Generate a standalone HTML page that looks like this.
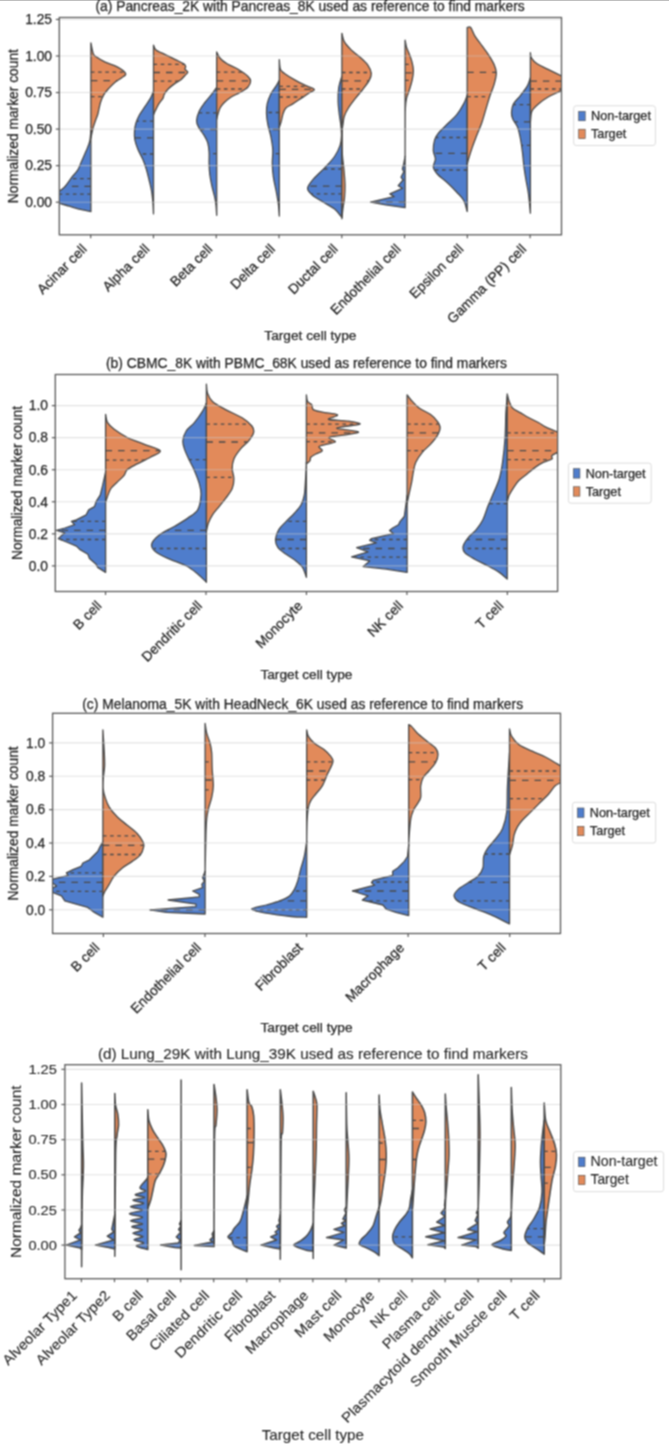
<!DOCTYPE html><html><head><meta charset="utf-8"><style>html,body{margin:0;padding:0;background:#fff;}text{stroke:#222;stroke-width:0.25px;}.lt text{stroke-width:0.1px;}</style></head><body><svg width="669" height="1445" viewBox="0 0 669 1445" style="display:block">
<defs><filter id="soft" x="0" y="0" width="1" height="1" filterUnits="objectBoundingBox" color-interpolation-filters="sRGB"><feConvolveMatrix order="3" kernelMatrix="1 2 1 2 4 2 1 2 1" edgeMode="duplicate" preserveAlpha="true"/></filter></defs>
<g filter="url(#soft)">
<rect width="669" height="1445" fill="#fff"/>
<g font-family='"Liberation Sans", sans-serif' fill="#262626">
<g>
<clipPath id="clipa"><rect x="59.3" y="17.5" width="502.2" height="217.3"/></clipPath>
<g clip-path="url(#clipa)" stroke="#4a4a4a" stroke-width="1.3" stroke-linejoin="round">
<path d="M90.9,130 C90.7,131.92 90.5,137.98 89.7,141.5 C88.9,145.02 87.5,147.7 86.1,151.1 C84.7,154.5 82.7,158.72 81.3,161.9 C79.9,165.08 79.3,167.62 77.7,170.2 C76.1,172.78 73.88,174.6 71.7,177.4 C69.52,180.2 67.05,184.4 64.6,187 C62.15,189.6 58.77,191.33 57,193 C55.23,194.67 54.33,195.67 54,197 C53.67,198.33 54,199.92 55,201 C56,202.08 57.62,202.65 60,203.5 C62.38,204.35 66.15,205.17 69.3,206.1 C72.45,207.03 75.3,208.2 78.9,209.1 C82.5,210 88.9,211.1 90.9,211.5 Z" fill="#4f7dcc"/>
<path d="M90.9,42.9 C91.3,44.7 92.3,51.3 93.3,53.7 C94.3,56.1 94.92,55.9 96.9,57.3 C98.88,58.7 101.82,60.5 105.2,62.1 C108.58,63.7 113.8,65.02 117.2,66.9 C120.6,68.78 124.8,71.62 125.6,73.4 C126.4,75.18 123.8,76.1 122,77.6 C120.2,79.1 117,80.6 114.8,82.4 C112.6,84.2 110.6,86.4 108.8,88.4 C107,90.4 105.4,92.02 104,94.4 C102.6,96.78 101.4,99.52 100.4,102.7 C99.4,105.88 98.78,110.62 98,113.5 C97.22,116.38 96.48,117.72 95.7,120 C94.92,122.28 94.1,124.2 93.3,127.2 C92.5,130.2 91.3,136.2 90.9,138 Z" fill="#e28a5a"/>
<line x1="90.9" y1="72.2" x2="124.05" y2="72.2" stroke-dasharray="3.6 3.6" stroke-width="1.3"/>
<line x1="90.9" y1="80.6" x2="117.5" y2="80.6" stroke-dasharray="6.5 6" stroke-width="1.3"/>
<line x1="90.9" y1="96.7" x2="103" y2="96.7" stroke-dasharray="3.6 3.6" stroke-width="1.3"/>
<line x1="90.9" y1="178.6" x2="70.81" y2="178.6" stroke-dasharray="3.6 3.6" stroke-width="1.3"/>
<line x1="90.9" y1="186.4" x2="65.04" y2="186.4" stroke-dasharray="6.5 6" stroke-width="1.3"/>
<line x1="90.9" y1="194.1" x2="56.18" y2="194.1" stroke-dasharray="3.6 3.6" stroke-width="1.3"/>
<path d="M153.5,91.4 C152.98,92.57 151.83,95.85 150.4,98.4 C148.97,100.95 146.73,103.93 144.9,106.7 C143.07,109.47 140.9,112.23 139.4,115 C137.9,117.77 136.72,120.53 135.9,123.3 C135.08,126.07 134.67,128.83 134.5,131.6 C134.33,134.37 134.32,136.9 134.9,139.9 C135.48,142.9 136.68,146.37 138,149.6 C139.32,152.83 141.42,156.07 142.8,159.3 C144.18,162.53 145.25,165.55 146.3,169 C147.35,172.45 148.22,176.32 149.1,180 C149.98,183.68 150.97,187.4 151.6,191.1 C152.23,194.8 152.58,198.4 152.9,202.2 C153.22,206 153.4,211.95 153.5,213.9 Z" fill="#4f7dcc"/>
<path d="M153.5,45.1 C153.92,45.9 153.97,48.28 156,49.9 C158.03,51.52 162.47,53.18 165.7,54.8 C168.93,56.42 172.4,58.1 175.4,59.6 C178.4,61.1 181.98,62.65 183.7,63.8 C185.42,64.95 185.48,65.58 185.7,66.5 C185.92,67.42 184.65,68.37 185,69.3 C185.35,70.23 187.8,71.07 187.8,72.1 C187.8,73.13 186.15,74.23 185,75.5 C183.85,76.77 182.5,78.43 180.9,79.7 C179.3,80.97 177.48,81.6 175.4,83.1 C173.32,84.6 170.25,86.85 168.4,88.7 C166.55,90.55 165.22,92.58 164.3,94.2 C163.38,95.82 163.82,96.78 162.9,98.4 C161.98,100.02 160.07,101.83 158.8,103.9 C157.53,105.97 156.18,108.95 155.3,110.8 C154.42,112.65 153.8,114.3 153.5,115 Z" fill="#e28a5a"/>
<line x1="153.5" y1="64.4" x2="184.14" y2="64.4" stroke-dasharray="3.6 3.6" stroke-width="1.3"/>
<line x1="153.5" y1="72.5" x2="187.47" y2="72.5" stroke-dasharray="6.5 6" stroke-width="1.3"/>
<line x1="153.5" y1="81.1" x2="178.64" y2="81.1" stroke-dasharray="3.6 3.6" stroke-width="1.3"/>
<line x1="153.5" y1="121.2" x2="136.79" y2="121.2" stroke-dasharray="3.6 3.6" stroke-width="1.3"/>
<line x1="153.5" y1="137.8" x2="134.8" y2="137.8" stroke-dasharray="6.5 6" stroke-width="1.3"/>
<line x1="153.5" y1="154" x2="140.18" y2="154" stroke-dasharray="3.6 3.6" stroke-width="1.3"/>
<path d="M216.7,87.3 C215.88,88.45 213.77,91.67 211.8,94.2 C209.83,96.73 206.97,99.73 204.9,102.5 C202.83,105.27 200.78,107.8 199.4,110.8 C198.02,113.8 196.72,117.73 196.6,120.5 C196.48,123.27 197.55,125.1 198.7,127.4 C199.85,129.7 202,131.77 203.5,134.3 C205,136.83 206.77,139.6 207.7,142.6 C208.63,145.6 208.87,148.83 209.1,152.3 C209.33,155.77 208.98,159.7 209.1,163.4 C209.22,167.1 209.35,170.8 209.8,174.5 C210.25,178.2 211,181.92 211.8,185.6 C212.6,189.28 213.9,193.38 214.6,196.6 C215.3,199.82 215.65,201.78 216,204.9 C216.35,208.02 216.58,213.57 216.7,215.3 Z" fill="#4f7dcc"/>
<path d="M216.7,52 C217.27,53.03 218.37,56.23 220.1,58.2 C221.83,60.17 224.1,61.95 227.1,63.8 C230.1,65.65 234.65,67.23 238.1,69.3 C241.55,71.37 245.72,74.23 247.8,76.2 C249.88,78.17 250.6,79.25 250.6,81.1 C250.6,82.95 249.65,85.35 247.8,87.3 C245.95,89.25 242.27,91.18 239.5,92.8 C236.73,94.42 233.73,95.38 231.2,97 C228.67,98.62 226.15,100.67 224.3,102.5 C222.45,104.33 221.13,106.15 220.1,108 C219.07,109.85 218.67,111.75 218.1,113.6 C217.53,115.45 216.93,118.18 216.7,119.1 Z" fill="#e28a5a"/>
<line x1="216.7" y1="72.1" x2="242.04" y2="72.1" stroke-dasharray="3.6 3.6" stroke-width="1.3"/>
<line x1="216.7" y1="80.8" x2="250.43" y2="80.8" stroke-dasharray="6.5 6" stroke-width="1.3"/>
<line x1="216.7" y1="89" x2="245.23" y2="89" stroke-dasharray="3.6 3.6" stroke-width="1.3"/>
<line x1="216.7" y1="112.9" x2="198.79" y2="112.9" stroke-dasharray="3.6 3.6" stroke-width="1.3"/>
<line x1="216.7" y1="129.5" x2="200.16" y2="129.5" stroke-dasharray="6.5 6" stroke-width="1.3"/>
<line x1="216.7" y1="153.7" x2="209.1" y2="153.7" stroke-dasharray="3.6 3.6" stroke-width="1.3"/>
<path d="M279.3,80.4 C278.78,81.32 277.63,83.6 276.2,85.9 C274.77,88.2 272.2,91.2 270.7,94.2 C269.2,97.2 267.9,100.67 267.2,103.9 C266.5,107.13 266.38,110.13 266.5,113.6 C266.62,117.07 267.2,121.02 267.9,124.7 C268.6,128.38 269.88,131.55 270.7,135.7 C271.52,139.85 272.53,144.98 272.8,149.6 C273.07,154.22 272.2,158.8 272.3,163.4 C272.4,168 272.75,172.58 273.4,177.2 C274.05,181.82 275.38,186.72 276.2,191.1 C277.02,195.48 277.78,199.35 278.3,203.5 C278.82,207.65 279.13,213.92 279.3,216 Z" fill="#4f7dcc"/>
<path d="M279.3,59.6 C279.48,61.22 279.53,67 280.4,69.3 C281.27,71.6 281.97,71.55 284.5,73.4 C287.03,75.25 291.9,78.32 295.6,80.4 C299.3,82.48 303.58,84.4 306.7,85.9 C309.82,87.4 313.85,88.25 314.3,89.4 C314.75,90.55 311.6,91.3 309.4,92.8 C307.2,94.3 303.87,96.55 301.1,98.4 C298.33,100.25 295.33,102.3 292.8,103.9 C290.27,105.5 287.52,106.38 285.9,108 C284.28,109.62 283.9,111.28 283.1,113.6 C282.3,115.92 281.73,119.6 281.1,121.9 C280.47,124.2 279.6,126.48 279.3,127.4 Z" fill="#e28a5a"/>
<line x1="279.3" y1="86.3" x2="307.57" y2="86.3" stroke-dasharray="3.6 3.6" stroke-width="1.3"/>
<line x1="279.3" y1="89.4" x2="314.3" y2="89.4" stroke-dasharray="6.5 6" stroke-width="1.3"/>
<line x1="279.3" y1="97" x2="303.18" y2="97" stroke-dasharray="3.6 3.6" stroke-width="1.3"/>
<line x1="279.3" y1="112.5" x2="266.58" y2="112.5" stroke-dasharray="3.6 3.6" stroke-width="1.3"/>
<line x1="279.3" y1="129.5" x2="269.12" y2="129.5" stroke-dasharray="6.5 6" stroke-width="1.3"/>
<line x1="279.3" y1="153.7" x2="272.65" y2="153.7" stroke-dasharray="3.6 3.6" stroke-width="1.3"/>
<path d="M341.9,76.2 C341.38,78.05 339.43,83.15 338.8,87.3 C338.17,91.45 338,96.48 338.1,101.1 C338.2,105.72 338.95,111.07 339.4,115 C339.85,118.93 340.45,121.25 340.8,124.7 C341.15,128.15 341.62,132.25 341.5,135.7 C341.38,139.15 341.25,141.93 340.1,145.4 C338.95,148.87 337.13,152.8 334.6,156.5 C332.07,160.2 328.37,163.92 324.9,167.6 C321.43,171.28 316.68,175.15 313.8,178.6 C310.92,182.05 307.82,185.53 307.6,188.3 C307.38,191.07 309.85,192.88 312.5,195.2 C315.15,197.52 319.82,199.88 323.5,202.2 C327.18,204.52 331.53,206.57 334.6,209.1 C337.67,211.63 340.68,216.02 341.9,217.4 Z" fill="#4f7dcc"/>
<path d="M341.9,33.3 C342.3,34.68 342.75,38.83 344.3,41.6 C345.85,44.37 348.67,47.37 351.2,49.9 C353.73,52.43 356.73,54.27 359.5,56.8 C362.27,59.33 365.83,62.33 367.8,65.1 C369.77,67.87 371.07,70.85 371.3,73.4 C371.53,75.95 370.7,77.63 369.2,80.4 C367.7,83.17 364.6,87 362.3,90 C360,93 357.72,95.4 355.4,98.4 C353.08,101.4 350.25,105.02 348.4,108 C346.55,110.98 345.22,113.52 344.3,116.3 C343.38,119.08 343.25,122.38 342.9,124.7 C342.55,127.02 342.33,127.65 342.2,130.2 C342.07,132.75 342.07,135.87 342.1,140 C342.13,144.13 342.08,149.95 342.4,155 C342.72,160.05 343.57,165.3 344,170.3 C344.43,175.3 344.92,180.38 345,185 C345.08,189.62 344.83,194.17 344.5,198 C344.17,201.83 343.43,204.53 343,208 C342.57,211.47 342.08,217 341.9,218.8 Z" fill="#e28a5a"/>
<line x1="341.9" y1="72.5" x2="370.92" y2="72.5" stroke-dasharray="3.6 3.6" stroke-width="1.3"/>
<line x1="341.9" y1="80.8" x2="368.91" y2="80.8" stroke-dasharray="6.5 6" stroke-width="1.3"/>
<line x1="341.9" y1="89" x2="363.02" y2="89" stroke-dasharray="3.6 3.6" stroke-width="1.3"/>
<line x1="341.9" y1="169" x2="323.49" y2="169" stroke-dasharray="3.6 3.6" stroke-width="1.3"/>
<line x1="341.9" y1="186.2" x2="308.94" y2="186.2" stroke-dasharray="6.5 6" stroke-width="1.3"/>
<line x1="341.9" y1="193.9" x2="311.58" y2="193.9" stroke-dasharray="3.6 3.6" stroke-width="1.3"/>
<path d="M405.1,156.5 L403.8,163.4 L402.4,169 L403.8,171.7 L401,177.2 L403.1,180 L398.2,185.6 L402.4,188.3 L389.9,193.9 L394.1,196.6 L370.5,202.2 L385.8,204.9 L405.1,207.7 Z" fill="#4f7dcc"/>
<path d="M405.1,40.2 C405.33,41.35 405.8,44.78 406.5,47.1 C407.2,49.42 408.37,51.55 409.3,54.1 C410.23,56.65 411.42,59.63 412.1,62.4 C412.78,65.17 413.4,67.7 413.4,70.7 C413.4,73.7 412.78,77.17 412.1,80.4 C411.42,83.63 410.23,87.1 409.3,90.1 C408.37,93.1 407.15,95.42 406.5,98.4 C405.85,101.38 405.62,104.08 405.4,108 C405.18,111.92 405.25,113.82 405.2,121.9 C405.15,129.98 405.12,150.73 405.1,156.5 Z" fill="#e28a5a"/>
<line x1="405.1" y1="64.4" x2="412.41" y2="64.4" stroke-dasharray="3.6 3.6" stroke-width="1.3"/>
<line x1="405.1" y1="72.8" x2="413.12" y2="72.8" stroke-dasharray="6.5 6" stroke-width="1.3"/>
<line x1="405.1" y1="80.4" x2="412.1" y2="80.4" stroke-dasharray="3.6 3.6" stroke-width="1.3"/>
<line x1="405.1" y1="202.2" x2="370.5" y2="202.2" stroke-dasharray="6.5 6" stroke-width="1.3"/>
<path d="M467.2,95.3 C466.63,96.68 465.53,100.37 463.8,103.6 C462.07,106.83 459.58,111.25 456.8,114.7 C454.02,118.15 450.1,121.32 447.1,124.3 C444.1,127.28 440.87,130.05 438.8,132.6 C436.73,135.15 435.62,136.6 434.7,139.6 C433.78,142.6 433.18,147.37 433.3,150.6 C433.42,153.83 435.4,156.23 435.4,159 C435.4,161.77 432.95,164.67 433.3,167.2 C433.65,169.73 435.2,171.65 437.5,174.2 C439.8,176.75 443.88,179.5 447.1,182.5 C450.32,185.5 454.02,189.2 456.8,192.2 C459.58,195.2 462.07,197.28 463.8,200.5 C465.53,203.72 466.63,209.67 467.2,211.5 Z" fill="#4f7dcc"/>
<path d="M467.2,27.5 C467.78,27.5 469.43,26.12 470.7,27.5 C471.97,28.88 472.97,32.82 474.8,35.8 C476.63,38.78 479.38,42.18 481.7,45.4 C484.02,48.62 486.62,51.87 488.7,55.1 C490.78,58.33 492.93,61.8 494.2,64.8 C495.47,67.8 496.3,69.87 496.3,73.1 C496.3,76.33 495.23,80.5 494.2,84.2 C493.17,87.9 491.48,91.15 490.1,95.3 C488.72,99.45 487.3,104.48 485.9,109.1 C484.5,113.72 483.32,118.38 481.7,123 C480.08,127.62 477.8,132.65 476.2,136.8 C474.6,140.95 473.37,144.22 472.1,147.9 C470.83,151.58 469.42,156.13 468.6,158.9 C467.78,161.67 467.43,163.57 467.2,164.5 Z" fill="#e28a5a"/>
<line x1="467.2" y1="72.4" x2="496.12" y2="72.4" stroke-dasharray="6.5 6" stroke-width="1.3"/>
<line x1="467.2" y1="96.7" x2="489.67" y2="96.7" stroke-dasharray="3.6 3.6" stroke-width="1.3"/>
<line x1="467.2" y1="137.5" x2="435.93" y2="137.5" stroke-dasharray="3.6 3.6" stroke-width="1.3"/>
<line x1="467.2" y1="153.4" x2="434" y2="153.4" stroke-dasharray="6.5 6" stroke-width="1.3"/>
<line x1="467.2" y1="170" x2="434.98" y2="170" stroke-dasharray="3.6 3.6" stroke-width="1.3"/>
<path d="M530.4,77.6 C529.9,78.98 529.07,82.9 527.4,85.9 C525.73,88.9 522.72,92.6 520.4,95.6 C518.08,98.6 514.98,101.13 513.5,103.9 C512.02,106.67 511.62,109.67 511.5,112.2 C511.38,114.73 511.77,116.57 512.8,119.1 C513.83,121.63 516.43,124.17 517.7,127.4 C518.97,130.63 519.6,134.35 520.4,138.5 C521.2,142.65 521.92,147.68 522.5,152.3 C523.08,156.92 523.32,161.58 523.9,166.2 C524.48,170.82 525.23,175.38 526,180 C526.77,184.62 527.77,188.37 528.5,193.9 C529.23,199.43 530.08,209.98 530.4,213.2 Z" fill="#4f7dcc"/>
<path d="M530.4,52.7 C530.58,53.62 530.38,56.35 531.5,58.2 C532.62,60.05 534.33,61.95 537.1,63.8 C539.87,65.65 543.95,67.23 548.1,69.3 C552.25,71.37 558.02,74.25 562,76.2 C565.98,78.15 572,78.7 572,81 C572,83.3 565.98,87.33 562,90 C558.02,92.67 552.03,94.68 548.1,97 C544.17,99.32 540.93,101.83 538.4,103.9 C535.87,105.97 534.1,107.78 532.9,109.4 C531.7,111.02 531.62,111.52 531.2,113.6 C530.78,115.68 530.53,120.52 530.4,121.9 Z" fill="#e28a5a"/>
<line x1="530.4" y1="81.1" x2="571.89" y2="81.1" stroke-dasharray="6.5 6" stroke-width="1.3"/>
<line x1="530.4" y1="89" x2="563.11" y2="89" stroke-dasharray="3.6 3.6" stroke-width="1.3"/>
<line x1="530.4" y1="104.6" x2="513.33" y2="104.6" stroke-dasharray="3.6 3.6" stroke-width="1.3"/>
<line x1="530.4" y1="121.9" x2="514.45" y2="121.9" stroke-dasharray="6.5 6" stroke-width="1.3"/>
<line x1="530.4" y1="145.4" x2="521.45" y2="145.4" stroke-dasharray="3.6 3.6" stroke-width="1.3"/>
</g>
<g stroke="#c8c8c8" stroke-width="1.1" stroke-opacity="0.5">
<line x1="59.3" y1="19.45" x2="561.5" y2="19.45"/>
<line x1="59.3" y1="56" x2="561.5" y2="56"/>
<line x1="59.3" y1="92.55" x2="561.5" y2="92.55"/>
<line x1="59.3" y1="129.1" x2="561.5" y2="129.1"/>
<line x1="59.3" y1="165.65" x2="561.5" y2="165.65"/>
<line x1="59.3" y1="202.2" x2="561.5" y2="202.2"/>
</g>
<rect x="59.3" y="17.5" width="502.2" height="217.3" fill="none" stroke="#5a5a5a" stroke-width="1.3"/>
<g stroke="#5a5a5a" stroke-width="1.2">
<line x1="55.8" y1="19.45" x2="59.3" y2="19.45"/>
<line x1="55.8" y1="56" x2="59.3" y2="56"/>
<line x1="55.8" y1="92.55" x2="59.3" y2="92.55"/>
<line x1="55.8" y1="129.1" x2="59.3" y2="129.1"/>
<line x1="55.8" y1="165.65" x2="59.3" y2="165.65"/>
<line x1="55.8" y1="202.2" x2="59.3" y2="202.2"/>
<line x1="90.69" y1="234.8" x2="90.69" y2="238.3"/>
<line x1="153.46" y1="234.8" x2="153.46" y2="238.3"/>
<line x1="216.24" y1="234.8" x2="216.24" y2="238.3"/>
<line x1="279.01" y1="234.8" x2="279.01" y2="238.3"/>
<line x1="341.79" y1="234.8" x2="341.79" y2="238.3"/>
<line x1="404.56" y1="234.8" x2="404.56" y2="238.3"/>
<line x1="467.34" y1="234.8" x2="467.34" y2="238.3"/>
<line x1="530.11" y1="234.8" x2="530.11" y2="238.3"/>
</g>
<text x="52" y="24.25" font-size="13.8" text-anchor="end">1.25</text>
<text x="52" y="60.8" font-size="13.8" text-anchor="end">1.00</text>
<text x="52" y="97.35" font-size="13.8" text-anchor="end">0.75</text>
<text x="52" y="133.9" font-size="13.8" text-anchor="end">0.50</text>
<text x="52" y="170.45" font-size="13.8" text-anchor="end">0.25</text>
<text x="52" y="207" font-size="13.8" text-anchor="end">0.00</text>
<text x="0" y="0" font-size="13.8" text-anchor="end" transform="translate(87.69,249.9) rotate(-45)">Acinar cell</text>
<text x="0" y="0" font-size="13.8" text-anchor="end" transform="translate(150.46,249.9) rotate(-45)">Alpha cell</text>
<text x="0" y="0" font-size="13.8" text-anchor="end" transform="translate(213.24,249.9) rotate(-45)">Beta cell</text>
<text x="0" y="0" font-size="13.8" text-anchor="end" transform="translate(276.01,249.9) rotate(-45)">Delta cell</text>
<text x="0" y="0" font-size="13.8" text-anchor="end" transform="translate(338.79,249.9) rotate(-45)">Ductal cell</text>
<text x="0" y="0" font-size="13.8" text-anchor="end" transform="translate(401.56,249.9) rotate(-45)">Endothelial cell</text>
<text x="0" y="0" font-size="13.8" text-anchor="end" transform="translate(464.34,249.9) rotate(-45)">Epsilon cell</text>
<text x="0" y="0" font-size="13.8" text-anchor="end" transform="translate(527.11,249.9) rotate(-45)">Gamma (PP) cell</text>
<text x="95.4" y="10.8" font-size="13.85" text-anchor="start">(a) Pancreas_2K with Pancreas_8K used as reference to find markers</text>
<rect x="573.7" y="105.8" width="81.7" height="39.7" rx="2.5" fill="#fff" fill-opacity="0.8" stroke="#dcdcdc" stroke-width="1"/>
<rect x="578.7" y="111.36" width="6.5" height="9.4" fill="#4f7dcc" stroke="#4a4a4a" stroke-width="0.6"/>
<rect x="578.7" y="129.22" width="6.5" height="9.4" fill="#e28a5a" stroke="#4a4a4a" stroke-width="0.6"/>
<text x="591" y="120.16" font-size="12.7" text-anchor="start">Non-target</text>
<text x="591" y="138.02" font-size="12.7" text-anchor="start">Target</text>
<text x="310.4" y="339.6" font-size="13.7" text-anchor="middle">Target cell type</text>
<text x="0" y="0" font-size="13.8" text-anchor="middle" transform="translate(17.9,126.15) rotate(-90)">Normalized marker count</text>
</g>
<g>
<clipPath id="clipb"><rect x="55.3" y="374.5" width="502.3" height="217"/></clipPath>
<g clip-path="url(#clipb)" stroke="#4a4a4a" stroke-width="1.3" stroke-linejoin="round">
<path d="M105.6,472.1 L102.7,485.2 L100.2,495.1 L96.1,501.7 L94.5,506.6 L88.7,509.9 L86.2,514.8 L76.4,519.8 L71.4,521.4 L74.7,524.7 L64.9,528 L56.6,530.4 L64.9,532.9 L61.6,535.4 L58.3,538.7 L66.5,542 L76.4,546.1 L79.7,549.4 L87.9,554.3 L89.5,558.4 L96.1,564.2 L97.7,567.4 L105.6,572.4 Z" fill="#4f7dcc"/>
<path d="M105.6,414.5 C105.93,415.87 106.17,420.23 107.6,422.7 C109.03,425.17 110.92,426.83 114.2,429.3 C117.48,431.77 122.37,435.03 127.3,437.5 C132.23,439.97 138.32,441.9 143.8,444.1 C149.28,446.3 159.1,448.5 160.2,450.7 C161.3,452.9 154.23,455.1 150.4,457.3 C146.57,459.5 141.05,461.85 137.2,463.9 C133.35,465.95 129.48,467.68 127.3,469.6 C125.12,471.52 125.73,473.35 124.1,475.4 C122.47,477.45 119.7,479.72 117.5,481.9 C115.3,484.08 112.68,485.75 110.9,488.5 C109.12,491.25 107.68,496.2 106.8,498.4 C105.92,500.6 105.8,501.15 105.6,501.7 Z" fill="#e28a5a"/>
<line x1="105.6" y1="450.7" x2="160.2" y2="450.7" stroke-dasharray="6.5 6" stroke-width="1.3"/>
<line x1="105.6" y1="460.1" x2="144.8" y2="460.1" stroke-dasharray="3.6 3.6" stroke-width="1.3"/>
<line x1="105.6" y1="521.4" x2="71.4" y2="521.4" stroke-dasharray="3.6 3.6" stroke-width="1.3"/>
<line x1="105.6" y1="530.4" x2="56.6" y2="530.4" stroke-dasharray="6.5 6" stroke-width="1.3"/>
<line x1="105.6" y1="539.5" x2="60.29" y2="539.5" stroke-dasharray="3.6 3.6" stroke-width="1.3"/>
<path d="M206.4,403 C205.77,404.37 204.6,407.92 202.6,411.2 C200.6,414.48 197.13,419.4 194.4,422.7 C191.67,426 188.12,427.98 186.2,431 C184.28,434.02 183.18,437.78 182.9,440.8 C182.62,443.82 183.4,445.8 184.5,449.1 C185.6,452.4 187.85,457.05 189.5,460.6 C191.15,464.15 192.77,466.57 194.4,470.4 C196.03,474.23 198.2,479.48 199.3,483.6 C200.4,487.72 201.27,490.72 201,495.1 C200.73,499.48 199.9,506.07 197.7,509.9 C195.5,513.73 191.63,515.37 187.8,518.1 C183.97,520.83 179.35,523.55 174.7,526.3 C170.05,529.05 163.75,531.58 159.9,534.6 C156.05,537.62 152.15,541.4 151.6,544.4 C151.05,547.4 153.58,550.13 156.6,552.6 C159.62,555.07 164.77,557 169.7,559.2 C174.63,561.4 181.53,563.33 186.2,565.8 C190.87,568.27 194.33,571.27 197.7,574 C201.07,576.73 204.95,580.83 206.4,582.2 Z" fill="#4f7dcc"/>
<path d="M206.4,384.1 C206.58,385.62 206.48,390.32 207.5,393.2 C208.52,396.08 209.48,398.67 212.5,401.4 C215.52,404.13 220.67,406.87 225.6,409.6 C230.53,412.33 237.72,415.07 242.1,417.8 C246.48,420.53 249.98,423.53 251.9,426 C253.82,428.47 254.13,430.13 253.6,432.6 C253.07,435.07 250.9,438.05 248.7,440.8 C246.5,443.55 242.87,446.08 240.4,449.1 C237.93,452.12 235.27,455.62 233.9,458.9 C232.53,462.18 232.2,465.5 232.2,468.8 C232.2,472.1 233.9,475.42 233.9,478.7 C233.9,481.98 233.58,485.22 232.2,488.5 C230.82,491.78 227.78,495.38 225.6,498.4 C223.42,501.42 221.28,503.87 219.1,506.6 C216.92,509.33 214.28,512.07 212.5,514.8 C210.72,517.53 209.42,520.25 208.4,523 C207.38,525.75 206.73,529.92 206.4,531.3 Z" fill="#e28a5a"/>
<line x1="206.4" y1="424.1" x2="249.63" y2="424.1" stroke-dasharray="3.6 3.6" stroke-width="1.3"/>
<line x1="206.4" y1="442" x2="247.5" y2="442" stroke-dasharray="6.5 6" stroke-width="1.3"/>
<line x1="206.4" y1="477.3" x2="233.66" y2="477.3" stroke-dasharray="3.6 3.6" stroke-width="1.3"/>
<line x1="206.4" y1="459.7" x2="189.11" y2="459.7" stroke-dasharray="3.6 3.6" stroke-width="1.3"/>
<line x1="206.4" y1="530.4" x2="167.39" y2="530.4" stroke-dasharray="6.5 6" stroke-width="1.3"/>
<line x1="206.4" y1="548.5" x2="154.1" y2="548.5" stroke-dasharray="3.6 3.6" stroke-width="1.3"/>
<path d="M306.4,462.2 C306.27,464.95 305.95,473.22 305.6,478.7 C305.25,484.18 305.07,490.72 304.3,495.1 C303.53,499.48 302.65,501.98 301,505 C299.35,508.02 296.87,510.47 294.4,513.2 C291.93,515.93 288.8,518.67 286.2,521.4 C283.6,524.13 280.58,526.58 278.8,529.6 C277.02,532.62 275.63,536.48 275.5,539.5 C275.37,542.52 276.22,545.23 278,547.7 C279.78,550.17 283.2,552.1 286.2,554.3 C289.2,556.5 293.27,558.72 296,560.9 C298.73,563.08 300.87,564.67 302.6,567.4 C304.33,570.13 305.77,575.65 306.4,577.3 Z" fill="#4f7dcc"/>
<path d="M306.4,394.8 C306.58,395.9 306.62,399.75 307.5,401.4 C308.38,403.05 310.73,403.33 311.7,404.7 C312.67,406.07 311.53,408.37 313.3,409.6 C315.07,410.83 318.33,411.28 322.3,412.1 C326.27,412.92 335.17,413.68 337.1,414.5 C339.03,415.32 335.27,416.17 333.9,417 C332.53,417.83 326.45,418.82 328.9,419.5 C331.35,420.18 343.42,420.33 348.6,421.1 C353.78,421.87 361.08,423.13 360,424.1 C358.92,425.07 345.92,426.17 342.1,426.9 C338.28,427.63 336.02,427.97 337.1,428.5 C338.18,429.03 345.03,429.47 348.6,430.1 C352.17,430.73 359.32,431.47 358.5,432.3 C357.68,433.13 348.63,434.23 343.7,435.1 C338.77,435.97 330.27,436.4 328.9,437.5 C327.53,438.6 335.77,440.6 335.5,441.7 C335.23,442.8 330.05,443.28 327.3,444.1 C324.55,444.92 319.83,445.5 319,446.6 C318.17,447.7 322.83,449.47 322.3,450.7 C321.77,451.93 317.72,452.9 315.8,454 C313.88,455.1 311.77,456.2 310.8,457.3 C309.83,458.4 310.73,459.5 310,460.6 C309.27,461.7 307,463.35 306.4,463.9 Z" fill="#e28a5a"/>
<line x1="306.4" y1="424.1" x2="360" y2="424.1" stroke-dasharray="3.6 3.6" stroke-width="1.3"/>
<line x1="306.4" y1="432.9" x2="355.33" y2="432.9" stroke-dasharray="6.5 6" stroke-width="1.3"/>
<line x1="306.4" y1="441.7" x2="335.5" y2="441.7" stroke-dasharray="3.6 3.6" stroke-width="1.3"/>
<line x1="306.4" y1="521.4" x2="286.2" y2="521.4" stroke-dasharray="3.6 3.6" stroke-width="1.3"/>
<line x1="306.4" y1="539.5" x2="275.5" y2="539.5" stroke-dasharray="6.5 6" stroke-width="1.3"/>
<line x1="306.4" y1="548.5" x2="278.99" y2="548.5" stroke-dasharray="3.6 3.6" stroke-width="1.3"/>
<path d="M407.1,495.1 L405.9,505 L404.3,516.5 L400.1,521.4 L398.5,524.7 L392.7,528 L389.5,530.4 L393.6,533.7 L371.4,538.7 L369.7,540.3 L376.3,542.8 L356.6,547.7 L368.1,551.8 L351.6,556.8 L369.7,560.9 L363.2,566.6 L386.2,569.1 L407.1,572.4 Z" fill="#4f7dcc"/>
<path d="M407.1,394.8 C407.72,395.62 408.8,397.5 410.8,399.7 C412.8,401.9 415.8,405.53 419.1,408 C422.4,410.47 427.6,412.32 430.6,414.5 C433.6,416.68 435.52,418.9 437.1,421.1 C438.68,423.3 440.1,425.23 440.1,427.7 C440.1,430.17 438.68,433.17 437.1,435.9 C435.52,438.63 433.07,441.37 430.6,444.1 C428.13,446.83 424.77,449.28 422.3,452.3 C419.83,455.32 417.3,458.9 415.8,462.2 C414.3,465.5 413.98,468.82 413.3,472.1 C412.62,475.38 412.38,478.35 411.7,481.9 C411.02,485.45 409.97,489.83 409.2,493.4 C408.43,496.97 407.45,501.65 407.1,503.3 Z" fill="#e28a5a"/>
<line x1="407.1" y1="424.1" x2="438.46" y2="424.1" stroke-dasharray="3.6 3.6" stroke-width="1.3"/>
<line x1="407.1" y1="432.9" x2="438.2" y2="432.9" stroke-dasharray="6.5 6" stroke-width="1.3"/>
<line x1="407.1" y1="450.7" x2="423.92" y2="450.7" stroke-dasharray="3.6 3.6" stroke-width="1.3"/>
<line x1="407.1" y1="539.5" x2="370.55" y2="539.5" stroke-dasharray="3.6 3.6" stroke-width="1.3"/>
<line x1="407.1" y1="548.5" x2="358.84" y2="548.5" stroke-dasharray="6.5 6" stroke-width="1.3"/>
<line x1="407.1" y1="557.2" x2="353.37" y2="557.2" stroke-dasharray="3.6 3.6" stroke-width="1.3"/>
<path d="M507.2,396.4 C506.98,399.15 506.25,406.05 505.9,412.9 C505.55,419.75 505.65,429.28 505.1,437.5 C504.55,445.72 503.57,455.33 502.6,462.2 C501.63,469.07 500.95,473.22 499.3,478.7 C497.65,484.18 494.62,490.45 492.7,495.1 C490.78,499.75 489.43,502.48 487.8,506.6 C486.17,510.72 484.82,515.97 482.9,519.8 C480.98,523.63 478.77,526.6 476.3,529.6 C473.83,532.6 470.28,535.05 468.1,537.8 C465.92,540.55 463.75,543.63 463.2,546.1 C462.65,548.57 462.88,550.42 464.8,552.6 C466.72,554.78 470.87,557 474.7,559.2 C478.53,561.4 483.7,563.6 487.8,565.8 C491.9,568 496.07,570.2 499.3,572.4 C502.53,574.6 505.88,577.9 507.2,579 Z" fill="#4f7dcc"/>
<path d="M507.2,394 C507.53,395.23 508.32,399.07 509.2,401.4 C510.08,403.73 510.58,406.08 512.5,408 C514.42,409.92 517.97,411.27 520.7,412.9 C523.43,414.53 525.88,416.17 528.9,417.8 C531.92,419.43 536.05,421.18 538.8,422.7 C541.55,424.22 542.67,425.52 545.4,426.9 C548.13,428.28 552.77,429.77 555.2,431 C557.63,432.23 559.53,432.38 560,434.3 C560.47,436.22 558.17,439.77 558,442.5 C557.83,445.23 560.02,448.52 559,450.7 C557.98,452.88 553.08,454.23 551.9,455.6 C550.72,456.97 553.27,457.8 551.9,458.9 C550.53,460 546.43,460.83 543.7,462.2 C540.97,463.57 538.23,465.18 535.5,467.1 C532.77,469.02 530.03,471.5 527.3,473.7 C524.57,475.9 521.3,478.1 519.1,480.3 C516.9,482.5 515.75,484.43 514.1,486.9 C512.45,489.37 510.35,492.63 509.2,495.1 C508.05,497.57 507.53,500.6 507.2,501.7 Z" fill="#e28a5a"/>
<line x1="507.2" y1="432.9" x2="557.96" y2="432.9" stroke-dasharray="3.6 3.6" stroke-width="1.3"/>
<line x1="507.2" y1="450.7" x2="559" y2="450.7" stroke-dasharray="6.5 6" stroke-width="1.3"/>
<line x1="507.2" y1="459.7" x2="549.91" y2="459.7" stroke-dasharray="3.6 3.6" stroke-width="1.3"/>
<line x1="507.2" y1="503.6" x2="489.08" y2="503.6" stroke-dasharray="3.6 3.6" stroke-width="1.3"/>
<line x1="507.2" y1="539.5" x2="467.1" y2="539.5" stroke-dasharray="6.5 6" stroke-width="1.3"/>
<line x1="507.2" y1="548.5" x2="463.79" y2="548.5" stroke-dasharray="3.6 3.6" stroke-width="1.3"/>
</g>
<g stroke="#c8c8c8" stroke-width="1.1" stroke-opacity="0.5">
<line x1="55.3" y1="565.9" x2="557.6" y2="565.9"/>
<line x1="55.3" y1="533.84" x2="557.6" y2="533.84"/>
<line x1="55.3" y1="501.78" x2="557.6" y2="501.78"/>
<line x1="55.3" y1="469.72" x2="557.6" y2="469.72"/>
<line x1="55.3" y1="437.66" x2="557.6" y2="437.66"/>
<line x1="55.3" y1="405.6" x2="557.6" y2="405.6"/>
</g>
<rect x="55.3" y="374.5" width="502.3" height="217" fill="none" stroke="#5a5a5a" stroke-width="1.3"/>
<g stroke="#5a5a5a" stroke-width="1.2">
<line x1="51.8" y1="565.9" x2="55.3" y2="565.9"/>
<line x1="51.8" y1="533.84" x2="55.3" y2="533.84"/>
<line x1="51.8" y1="501.78" x2="55.3" y2="501.78"/>
<line x1="51.8" y1="469.72" x2="55.3" y2="469.72"/>
<line x1="51.8" y1="437.66" x2="55.3" y2="437.66"/>
<line x1="51.8" y1="405.6" x2="55.3" y2="405.6"/>
<line x1="105.53" y1="591.5" x2="105.53" y2="595"/>
<line x1="205.99" y1="591.5" x2="205.99" y2="595"/>
<line x1="306.45" y1="591.5" x2="306.45" y2="595"/>
<line x1="406.91" y1="591.5" x2="406.91" y2="595"/>
<line x1="507.37" y1="591.5" x2="507.37" y2="595"/>
</g>
<text x="48" y="570.7" font-size="13.8" text-anchor="end">0.0</text>
<text x="48" y="538.64" font-size="13.8" text-anchor="end">0.2</text>
<text x="48" y="506.58" font-size="13.8" text-anchor="end">0.4</text>
<text x="48" y="474.52" font-size="13.8" text-anchor="end">0.6</text>
<text x="48" y="442.46" font-size="13.8" text-anchor="end">0.8</text>
<text x="48" y="410.4" font-size="13.8" text-anchor="end">1.0</text>
<text x="0" y="0" font-size="13.8" text-anchor="end" transform="translate(102.53,606.6) rotate(-45)">B cell</text>
<text x="0" y="0" font-size="13.8" text-anchor="end" transform="translate(202.99,606.6) rotate(-45)">Dendritic cell</text>
<text x="0" y="0" font-size="13.8" text-anchor="end" transform="translate(303.45,606.6) rotate(-45)">Monocyte</text>
<text x="0" y="0" font-size="13.8" text-anchor="end" transform="translate(403.91,606.6) rotate(-45)">NK cell</text>
<text x="0" y="0" font-size="13.8" text-anchor="end" transform="translate(504.37,606.6) rotate(-45)">T cell</text>
<text x="106" y="368" font-size="13.85" text-anchor="start">(b) CBMC_8K with PBMC_68K used as reference to find markers</text>
<rect x="568.4" y="463.1" width="82.8" height="40.1" rx="2.5" fill="#fff" fill-opacity="0.8" stroke="#dcdcdc" stroke-width="1"/>
<rect x="573.4" y="468.71" width="6.5" height="9.4" fill="#4f7dcc" stroke="#4a4a4a" stroke-width="0.6"/>
<rect x="573.4" y="486.76" width="6.5" height="9.4" fill="#e28a5a" stroke="#4a4a4a" stroke-width="0.6"/>
<text x="585.7" y="477.51" font-size="12.7" text-anchor="start">Non-target</text>
<text x="585.7" y="495.56" font-size="12.7" text-anchor="start">Target</text>
<text x="306.45" y="678.7" font-size="13.7" text-anchor="middle">Target cell type</text>
<text x="0" y="0" font-size="13.8" text-anchor="middle" transform="translate(21.5,483) rotate(-90)">Normalized marker count</text>
</g>
<g>
<clipPath id="clipc"><rect x="52.6" y="713.3" width="507.9" height="220.2"/></clipPath>
<g clip-path="url(#clipc)" stroke="#4a4a4a" stroke-width="1.3" stroke-linejoin="round">
<path d="M102.9,841.7 L100.1,846.6 L97.7,851.5 L92.7,856.5 L89.5,859.8 L82.9,863 L81.2,866.3 L73,869.6 L66.4,872.9 L68.1,875.4 L58.2,877.8 L48,880.3 L53.3,883.6 L56.6,886.1 L49,889.4 L53.3,892.6 L61.5,895.9 L64.8,900.9 L76.3,904.2 L87.8,907.4 L94.4,912.4 L102.9,917.3 Z" fill="#4f7dcc"/>
<path d="M102.9,729.9 C103.13,733.73 104.02,746.88 104.3,752.9 C104.58,758.92 104.75,761.9 104.6,766 C104.45,770.1 103.63,773.67 103.4,777.5 C103.17,781.33 102.92,785.7 103.2,789 C103.48,792.3 104.1,794.28 105.1,797.3 C106.1,800.32 107.15,803.82 109.2,807.1 C111.25,810.38 114.38,813.98 117.4,817 C120.42,820.02 124.02,822.45 127.3,825.2 C130.58,827.95 134.5,830.75 137.1,833.5 C139.7,836.25 141.8,839.52 142.9,841.7 C144,843.88 144.12,844.42 143.7,846.6 C143.28,848.78 142.32,852.33 140.4,854.8 C138.48,857.27 135.22,859.2 132.2,861.4 C129.18,863.6 125.32,865.53 122.3,868 C119.28,870.47 116.28,873.47 114.1,876.2 C111.92,878.93 110.7,881.93 109.2,884.4 C107.7,886.87 106.15,889.08 105.1,891 C104.05,892.92 103.27,895.08 102.9,895.9 Z" fill="#e28a5a"/>
<line x1="102.9" y1="835.9" x2="138.8" y2="835.9" stroke-dasharray="3.6 3.6" stroke-width="1.3"/>
<line x1="102.9" y1="845.3" x2="143.49" y2="845.3" stroke-dasharray="6.5 6" stroke-width="1.3"/>
<line x1="102.9" y1="854.5" x2="140.52" y2="854.5" stroke-dasharray="3.6 3.6" stroke-width="1.3"/>
<line x1="102.9" y1="872.9" x2="66.4" y2="872.9" stroke-dasharray="3.6 3.6" stroke-width="1.3"/>
<line x1="102.9" y1="882.4" x2="51.37" y2="882.4" stroke-dasharray="6.5 6" stroke-width="1.3"/>
<line x1="102.9" y1="891.3" x2="51.55" y2="891.3" stroke-dasharray="3.6 3.6" stroke-width="1.3"/>
<path d="M205.1,871.3 L202.6,877.8 L204.3,881.1 L201.8,884.4 L202.6,887.7 L192.7,891 L199.3,894.3 L199.3,896.8 L168.1,900 L196,904.2 L196,906.6 L150,909.9 L166.4,912.4 L205.1,914 Z" fill="#4f7dcc"/>
<path d="M205.1,723.3 C205.37,724.95 205.88,729.92 206.7,733.2 C207.52,736.48 209.17,739.72 210,743 C210.83,746.28 211.33,748.52 211.7,752.9 C212.07,757.28 211.93,763.82 212.2,769.3 C212.47,774.78 213.38,781.13 213.3,785.8 C213.22,790.47 212.52,793.47 211.7,797.3 C210.88,801.13 209.23,805.23 208.4,808.8 C207.57,812.37 207.12,814.32 206.7,818.7 C206.28,823.08 206.17,826.22 205.9,835.1 C205.63,843.98 205.23,865.85 205.1,872 Z" fill="#e28a5a"/>
<line x1="205.1" y1="761.9" x2="211.97" y2="761.9" stroke-dasharray="3.6 3.6" stroke-width="1.3"/>
<line x1="205.1" y1="780" x2="212.91" y2="780" stroke-dasharray="6.5 6" stroke-width="1.3"/>
<line x1="205.1" y1="789.9" x2="212.73" y2="789.9" stroke-dasharray="3.6 3.6" stroke-width="1.3"/>
<line x1="205.1" y1="909.9" x2="150" y2="909.9" stroke-dasharray="6.5 6" stroke-width="1.3"/>
<path d="M306.7,841.7 C306.3,844.17 305.25,852.12 304.3,856.5 C303.35,860.88 301.83,864.98 301,868 C300.17,871.02 299.85,872.42 299.3,874.6 C298.75,876.78 298.52,878.63 297.7,881.1 C296.88,883.57 295.77,886.93 294.4,889.4 C293.03,891.87 291.97,893.98 289.5,895.9 C287.03,897.82 283.45,899.38 279.6,900.9 C275.75,902.42 271.07,903.63 266.4,905 C261.73,906.37 251.6,907.73 251.6,909.1 C251.6,910.47 259.82,911.97 266.4,913.2 C272.98,914.43 284.38,915.82 291.1,916.5 C297.82,917.18 304.1,917.17 306.7,917.3 Z" fill="#4f7dcc"/>
<path d="M306.7,729.9 C306.98,730.98 307.17,734.22 308.4,736.4 C309.63,738.58 311.5,740.8 314.1,743 C316.7,745.2 321.25,747.4 324,749.6 C326.75,751.8 329.1,754.28 330.6,756.2 C332.1,758.12 333,759.18 333,761.1 C333,763.02 331.55,765.5 330.6,767.7 C329.65,769.9 328.68,771.28 327.3,774.3 C325.92,777.32 324.22,782.52 322.3,785.8 C320.38,789.08 317.72,791.53 315.8,794 C313.88,796.47 312.03,798.42 310.8,800.6 C309.57,802.78 309,804.08 308.4,807.1 C307.8,810.12 307.47,814.55 307.2,818.7 C306.93,822.85 306.88,828.03 306.8,832 C306.72,835.97 306.72,840.75 306.7,842.5 Z" fill="#e28a5a"/>
<line x1="306.7" y1="761.9" x2="332.71" y2="761.9" stroke-dasharray="3.6 3.6" stroke-width="1.3"/>
<line x1="306.7" y1="771" x2="328.95" y2="771" stroke-dasharray="6.5 6" stroke-width="1.3"/>
<line x1="306.7" y1="780" x2="324.82" y2="780" stroke-dasharray="3.6 3.6" stroke-width="1.3"/>
<line x1="306.7" y1="891" x2="293.19" y2="891" stroke-dasharray="3.6 3.6" stroke-width="1.3"/>
<line x1="306.7" y1="900.9" x2="279.6" y2="900.9" stroke-dasharray="6.5 6" stroke-width="1.3"/>
<line x1="306.7" y1="909.9" x2="254.49" y2="909.9" stroke-dasharray="3.6 3.6" stroke-width="1.3"/>
<path d="M408.7,845 L407.5,856.5 L404.3,861.4 L397.7,868 L392.7,871.3 L392.7,875.4 L373,880.3 L371.4,882.8 L374.7,885.2 L352.5,891 L368.1,895.9 L362.3,900 L382.9,905 L386.2,909.1 L396,912.4 L408.7,915.7 Z" fill="#4f7dcc"/>
<path d="M408.7,724.6 C409.2,724.93 410.25,725.17 411.7,726.6 C413.15,728.03 414.8,730.73 417.4,733.2 C420,735.67 424.28,738.93 427.3,741.4 C430.32,743.87 433.72,745.82 435.5,748 C437.28,750.18 438,752.05 438,754.5 C438,756.95 437.02,759.95 435.5,762.7 C433.98,765.45 430.95,768.53 428.9,771 C426.85,773.47 424.57,775.03 423.2,777.5 C421.83,779.97 421.12,782.5 420.7,785.8 C420.28,789.1 421.25,794.28 420.7,797.3 C420.15,800.32 418.63,801.72 417.4,803.9 C416.17,806.08 414.4,807.93 413.3,810.4 C412.2,812.87 411.48,814.6 410.8,818.7 C410.12,822.8 409.55,830.45 409.2,835 C408.85,839.55 408.78,844.17 408.7,846 Z" fill="#e28a5a"/>
<line x1="408.7" y1="752.6" x2="437.27" y2="752.6" stroke-dasharray="3.6 3.6" stroke-width="1.3"/>
<line x1="408.7" y1="761.9" x2="435.74" y2="761.9" stroke-dasharray="6.5 6" stroke-width="1.3"/>
<line x1="408.7" y1="779.7" x2="422.54" y2="779.7" stroke-dasharray="3.6 3.6" stroke-width="1.3"/>
<line x1="408.7" y1="882" x2="371.91" y2="882" stroke-dasharray="3.6 3.6" stroke-width="1.3"/>
<line x1="408.7" y1="891" x2="352.5" y2="891" stroke-dasharray="6.5 6" stroke-width="1.3"/>
<line x1="408.7" y1="900.9" x2="366.01" y2="900.9" stroke-dasharray="3.6 3.6" stroke-width="1.3"/>
<path d="M509.5,752.9 C509.17,758.38 507.97,775.93 507.5,785.8 C507.03,795.67 507.52,804.98 506.7,812.1 C505.88,819.22 504.38,824.12 502.6,828.5 C500.82,832.88 498.47,835.12 496,838.4 C493.53,841.68 489.85,845.18 487.8,848.2 C485.75,851.22 484.52,853.2 483.7,856.5 C482.88,859.8 483.87,864.72 482.9,868 C481.93,871.28 480.37,873.73 477.9,876.2 C475.43,878.67 471.38,880.6 468.1,882.8 C464.82,885 460.53,887.22 458.2,889.4 C455.87,891.58 453.82,893.72 454.1,895.9 C454.38,898.08 456.2,900.3 459.9,902.5 C463.6,904.7 470.83,906.9 476.3,909.1 C481.77,911.3 487.17,913.23 492.7,915.7 C498.23,918.17 506.7,922.53 509.5,923.9 Z" fill="#4f7dcc"/>
<path d="M509.5,729 C509.87,730.23 510.1,733.78 511.7,736.4 C513.3,739.02 515.68,742.23 519.1,744.7 C522.52,747.17 527.82,749.15 532.2,751.2 C536.58,753.25 541.57,755.08 545.4,757 C549.23,758.92 552.27,760.87 555.2,762.7 C558.13,764.53 561.37,765.95 563,768 C564.63,770.05 565,772.83 565,775 C565,777.17 564.63,779.2 563,781 C561.37,782.8 557.58,783.63 555.2,785.8 C552.82,787.97 551.43,790.98 548.7,794 C545.97,797.02 541.82,800.88 538.8,803.9 C535.78,806.92 533.35,809.37 530.6,812.1 C527.85,814.83 524.5,817.83 522.3,820.3 C520.1,822.77 518.77,824.43 517.4,826.9 C516.03,829.37 514.92,832.08 514.1,835.1 C513.28,838.12 513.27,841.72 512.5,845 C511.73,848.28 510,853.17 509.5,854.8 Z" fill="#e28a5a"/>
<line x1="509.5" y1="771" x2="563.86" y2="771" stroke-dasharray="3.6 3.6" stroke-width="1.3"/>
<line x1="509.5" y1="780.3" x2="563.23" y2="780.3" stroke-dasharray="6.5 6" stroke-width="1.3"/>
<line x1="509.5" y1="798.6" x2="544.1" y2="798.6" stroke-dasharray="3.6 3.6" stroke-width="1.3"/>
<line x1="509.5" y1="854" x2="484.93" y2="854" stroke-dasharray="3.6 3.6" stroke-width="1.3"/>
<line x1="509.5" y1="882.4" x2="468.69" y2="882.4" stroke-dasharray="6.5 6" stroke-width="1.3"/>
<line x1="509.5" y1="900.9" x2="458.49" y2="900.9" stroke-dasharray="3.6 3.6" stroke-width="1.3"/>
</g>
<g stroke="#c8c8c8" stroke-width="1.1" stroke-opacity="0.5">
<line x1="52.6" y1="909.8" x2="560.5" y2="909.8"/>
<line x1="52.6" y1="876.42" x2="560.5" y2="876.42"/>
<line x1="52.6" y1="843.04" x2="560.5" y2="843.04"/>
<line x1="52.6" y1="809.66" x2="560.5" y2="809.66"/>
<line x1="52.6" y1="776.28" x2="560.5" y2="776.28"/>
<line x1="52.6" y1="742.9" x2="560.5" y2="742.9"/>
</g>
<rect x="52.6" y="713.3" width="507.9" height="220.2" fill="none" stroke="#5a5a5a" stroke-width="1.3"/>
<g stroke="#5a5a5a" stroke-width="1.2">
<line x1="49.1" y1="909.8" x2="52.6" y2="909.8"/>
<line x1="49.1" y1="876.42" x2="52.6" y2="876.42"/>
<line x1="49.1" y1="843.04" x2="52.6" y2="843.04"/>
<line x1="49.1" y1="809.66" x2="52.6" y2="809.66"/>
<line x1="49.1" y1="776.28" x2="52.6" y2="776.28"/>
<line x1="49.1" y1="742.9" x2="52.6" y2="742.9"/>
<line x1="103.39" y1="933.5" x2="103.39" y2="937"/>
<line x1="204.97" y1="933.5" x2="204.97" y2="937"/>
<line x1="306.55" y1="933.5" x2="306.55" y2="937"/>
<line x1="408.13" y1="933.5" x2="408.13" y2="937"/>
<line x1="509.71" y1="933.5" x2="509.71" y2="937"/>
</g>
<text x="45.3" y="914.6" font-size="13.8" text-anchor="end">0.0</text>
<text x="45.3" y="881.22" font-size="13.8" text-anchor="end">0.2</text>
<text x="45.3" y="847.84" font-size="13.8" text-anchor="end">0.4</text>
<text x="45.3" y="814.46" font-size="13.8" text-anchor="end">0.6</text>
<text x="45.3" y="781.08" font-size="13.8" text-anchor="end">0.8</text>
<text x="45.3" y="747.7" font-size="13.8" text-anchor="end">1.0</text>
<text x="0" y="0" font-size="13.8" text-anchor="end" transform="translate(100.39,948.6) rotate(-45)">B cell</text>
<text x="0" y="0" font-size="13.8" text-anchor="end" transform="translate(201.97,948.6) rotate(-45)">Endothelial cell</text>
<text x="0" y="0" font-size="13.8" text-anchor="end" transform="translate(303.55,948.6) rotate(-45)">Fibroblast</text>
<text x="0" y="0" font-size="13.8" text-anchor="end" transform="translate(405.13,948.6) rotate(-45)">Macrophage</text>
<text x="0" y="0" font-size="13.8" text-anchor="end" transform="translate(506.71,948.6) rotate(-45)">T cell</text>
<text x="82.2" y="708.5" font-size="13.85" text-anchor="start">(c) Melanoma_5K with HeadNeck_6K used as reference to find markers</text>
<rect x="572.5" y="802.3" width="83.2" height="40.7" rx="2.5" fill="#fff" fill-opacity="0.8" stroke="#dcdcdc" stroke-width="1"/>
<rect x="577.5" y="808" width="6.5" height="9.4" fill="#4f7dcc" stroke="#4a4a4a" stroke-width="0.6"/>
<rect x="577.5" y="826.31" width="6.5" height="9.4" fill="#e28a5a" stroke="#4a4a4a" stroke-width="0.6"/>
<text x="589.8" y="816.8" font-size="12.7" text-anchor="start">Non-target</text>
<text x="589.8" y="835.11" font-size="12.7" text-anchor="start">Target</text>
<text x="306.55" y="1031.6" font-size="13.7" text-anchor="middle">Target cell type</text>
<text x="0" y="0" font-size="13.8" text-anchor="middle" transform="translate(17.8,823.4) rotate(-90)">Normalized marker count</text>
</g>
<g class="lt">
<clipPath id="clipd"><rect x="64.9" y="1064.7" width="495.9" height="214"/></clipPath>
<g clip-path="url(#clipd)" stroke="#4a4a4a" stroke-width="1.5" stroke-linejoin="round">
<path d="M81.6,1225 L80.5,1228 L79,1230.2 L80.5,1233 L74.5,1236.9 L80.4,1239.9 L66.2,1245.1 L80.4,1248.1 L81.6,1249.6 Z" fill="#4f7dcc"/>
<path d="M81.6,1082.9 C81.78,1092.37 82.4,1126.48 82.7,1139.7 C83,1152.92 83.33,1155.98 83.4,1162.2 C83.47,1168.42 83.3,1170.78 83.1,1177 C82.9,1183.22 82.45,1184.53 82.2,1199.5 C81.95,1214.47 81.7,1255.58 81.6,1266.8 Z" fill="#e28a5a"/>
<path d="M114.8,1214.5 L113.3,1222 L111.8,1229.4 L113.8,1232 L107.3,1236.1 L113.5,1240 L95.4,1245.1 L108.8,1247.4 L114.8,1248.9 Z" fill="#4f7dcc"/>
<path d="M114.8,1093.4 C114.93,1095.4 115.1,1101.92 115.6,1105.4 C116.1,1108.88 117.3,1111.07 117.8,1114.3 C118.3,1117.53 118.72,1121.3 118.6,1124.8 C118.48,1128.3 117.6,1130.32 117.1,1135.3 C116.6,1140.28 115.98,1134.53 115.6,1154.7 C115.22,1174.87 114.93,1239.37 114.8,1256.3 Z" fill="#e28a5a"/>
<path d="M147.8,1177 C147.5,1177.5 147.3,1178.22 146,1180 C144.7,1181.78 140.08,1185.83 140,1187.7 C139.92,1189.57 146.3,1190.02 145.5,1191.2 C144.7,1192.38 135.37,1193.75 135.2,1194.8 C135.03,1195.85 144.88,1196.6 144.5,1197.5 C144.12,1198.4 133.07,1199.22 132.9,1200.2 C132.73,1201.18 143.9,1202.33 143.5,1203.4 C143.1,1204.47 130.67,1205.48 130.5,1206.6 C130.33,1207.72 142.7,1208.92 142.5,1210.1 C142.3,1211.28 129.3,1212.5 129.3,1213.7 C129.3,1214.9 142.3,1216.12 142.5,1217.3 C142.7,1218.48 130.5,1219.72 130.5,1220.8 C130.5,1221.88 142.3,1222.82 142.5,1223.8 C142.7,1224.78 131.7,1225.67 131.7,1226.7 C131.7,1227.73 142.3,1228.9 142.5,1230 C142.7,1231.1 132.82,1232.22 132.9,1233.3 C132.98,1234.38 142.82,1235.43 143,1236.5 C143.18,1237.57 133.92,1238.63 134,1239.7 C134.08,1240.77 143.1,1241.85 143.5,1242.9 C143.9,1243.95 135.68,1244.9 136.4,1246 C137.12,1247.1 145.9,1248.92 147.8,1249.5 Z" fill="#4f7dcc"/>
<path d="M147.8,1109.8 C147.98,1111.55 148.13,1117.05 148.9,1120.3 C149.67,1123.55 151.07,1126.57 152.4,1129.3 C153.73,1132.03 155.28,1134.22 156.9,1136.7 C158.52,1139.18 160.65,1141.7 162.1,1144.2 C163.55,1146.7 164.97,1149.7 165.6,1151.7 C166.23,1153.7 166.23,1153.97 165.9,1156.2 C165.57,1158.43 164.73,1162.12 163.6,1165.1 C162.47,1168.08 160.47,1171.6 159.1,1174.1 C157.73,1176.6 156.38,1177.62 155.4,1180.1 C154.42,1182.58 153.95,1185.77 153.2,1189 C152.45,1192.23 151.8,1196.25 150.9,1199.5 C150,1202.75 148.32,1207 147.8,1208.5 Z" fill="#e28a5a"/>
<line x1="147.8" y1="1151.4" x2="165.46" y2="1151.4" stroke-dasharray="3.6 3.6" stroke-width="1.3"/>
<line x1="147.8" y1="1159.2" x2="165.12" y2="1159.2" stroke-dasharray="6.5 6" stroke-width="1.3"/>
<line x1="147.8" y1="1174.1" x2="159.1" y2="1174.1" stroke-dasharray="3.6 3.6" stroke-width="1.3"/>
<path d="M181.1,1220.5 L179.5,1224 L181,1226 L178.6,1229.4 L180.8,1232 L176.3,1236.9 L180,1240 L178.5,1242.9 L160.6,1245.1 L174.8,1247.4 L181.1,1248.1 Z" fill="#4f7dcc"/>
<path d="M181.1,1080 C181.1,1111.63 181.1,1238.17 181.1,1269.8 Z" fill="#e28a5a"/>
<path d="M214,1230.9 L212.2,1234 L213,1237 L210,1239.9 L212.5,1242 L194.3,1245.4 L207.7,1246.3 L214,1246.6 Z" fill="#4f7dcc"/>
<path d="M214,1084.4 C214.33,1086.65 215.5,1093.67 216,1097.9 C216.5,1102.13 217,1105.32 217,1109.8 C217,1114.28 216.42,1119.82 216,1124.8 C215.58,1129.78 214.83,1119.52 214.5,1139.7 C214.17,1159.88 214.08,1228.2 214,1245.9 Z" fill="#e28a5a"/>
<path d="M247.1,1196 C246.83,1197.17 246.05,1200.75 245.5,1203 C244.95,1205.25 244.47,1207 243.8,1209.5 C243.13,1212 242.22,1215.83 241.5,1218 C240.78,1220.17 240.48,1221.05 239.5,1222.5 C238.52,1223.95 236.6,1225.53 235.6,1226.7 C234.6,1227.87 234.1,1228.53 233.5,1229.5 C232.9,1230.47 232.92,1231.25 232,1232.5 C231.08,1233.75 228,1235.67 228,1237 C228,1238.33 231.02,1239.07 232,1240.5 C232.98,1241.93 232.43,1244.17 233.9,1245.6 C235.37,1247.03 238.6,1248.08 240.8,1249.1 C243,1250.12 246.05,1251.27 247.1,1251.7 Z" fill="#4f7dcc"/>
<path d="M247.1,1089.7 C247.4,1091.82 248.1,1099.53 248.9,1102.4 C249.7,1105.27 251.1,1104.67 251.9,1106.9 C252.7,1109.13 253.33,1111.57 253.7,1115.8 C254.07,1120.03 254.15,1125.82 254.1,1132.3 C254.05,1138.78 253.77,1148.48 253.4,1154.7 C253.03,1160.92 252.52,1164.62 251.9,1169.6 C251.28,1174.58 250.32,1179.62 249.7,1184.6 C249.08,1189.58 248.63,1195.52 248.2,1199.5 C247.77,1203.48 247.28,1207 247.1,1208.5 Z" fill="#e28a5a"/>
<line x1="247.1" y1="1128.5" x2="254.01" y2="1128.5" stroke-dasharray="3.6 3.6" stroke-width="1.3"/>
<line x1="247.1" y1="1142.7" x2="253.78" y2="1142.7" stroke-dasharray="6.5 6" stroke-width="1.3"/>
<line x1="247.1" y1="1167.4" x2="252.12" y2="1167.4" stroke-dasharray="3.6 3.6" stroke-width="1.3"/>
<line x1="247.1" y1="1237.6" x2="228.69" y2="1237.6" stroke-dasharray="3.6 3.6" stroke-width="1.3"/>
<path d="M280.3,1214.5 L279,1220.5 L279.8,1223.5 L276.6,1226.4 L278.8,1229 L275,1232 L277.3,1234 L270.6,1236.9 L276.6,1240 L260.9,1245.1 L274.3,1247.9 L280.3,1248.9 Z" fill="#4f7dcc"/>
<path d="M280.3,1089.7 C280.55,1091.82 281.35,1097.8 281.8,1102.4 C282.25,1107 282.88,1112.32 283,1117.3 C283.12,1122.28 282.83,1127.32 282.5,1132.3 C282.17,1137.28 281.37,1126.03 281,1147.2 C280.63,1168.37 280.42,1240.62 280.3,1259.3 Z" fill="#e28a5a"/>
<path d="M313.2,1223.4 C312.7,1224.65 311.45,1228.65 310.2,1230.9 C308.95,1233.15 307.45,1235.15 305.7,1236.9 C303.95,1238.65 301.68,1240.03 299.7,1241.4 C297.72,1242.77 293.8,1243.98 293.8,1245.1 C293.8,1246.22 297.47,1247.22 299.7,1248.1 C301.93,1248.98 304.95,1249.9 307.2,1250.4 C309.45,1250.9 312.2,1250.98 313.2,1251.1 Z" fill="#4f7dcc"/>
<path d="M313.2,1091.2 C313.57,1092.32 314.78,1095.53 315.4,1097.9 C316.02,1100.27 316.72,1100.92 316.9,1105.4 C317.08,1109.88 316.62,1117.83 316.5,1124.8 C316.38,1131.77 316.38,1139.73 316.2,1147.2 C316.02,1154.67 315.7,1162.12 315.4,1169.6 C315.1,1177.08 314.72,1184.62 314.4,1192.1 C314.08,1199.58 313.7,1203.42 313.5,1214.5 C313.3,1225.58 313.25,1251.25 313.2,1258.6 Z" fill="#e28a5a"/>
<path d="M346.2,1207 L344.4,1210 L346,1213 L342.9,1219 L346,1220.5 L341.4,1223.5 L344.4,1225.7 L334,1229.4 L343.9,1232.4 L326.5,1237.6 L343.9,1239.9 L334,1245.1 L346.2,1248.1 Z" fill="#4f7dcc"/>
<path d="M346.2,1092.7 C346.28,1098.05 346.45,1116.97 346.7,1124.8 C346.95,1132.63 347.33,1134.22 347.7,1139.7 C348.07,1145.18 348.82,1151.47 348.9,1157.7 C348.98,1163.93 348.45,1171.37 348.2,1177.1 C347.95,1182.83 347.65,1187.12 347.4,1192.1 C347.15,1197.08 346.9,1203.27 346.7,1207 C346.5,1210.73 346.28,1213.25 346.2,1214.5 Z" fill="#e28a5a"/>
<path d="M379.1,1207 C378.55,1208.75 376.85,1214.27 375.8,1217.5 C374.75,1220.73 374.28,1223.67 372.8,1226.4 C371.32,1229.13 368.88,1231.65 366.9,1233.9 C364.92,1236.15 362.15,1238.15 360.9,1239.9 C359.65,1241.65 358.65,1243.15 359.4,1244.4 C360.15,1245.65 362.92,1246.15 365.4,1247.4 C367.88,1248.65 372.02,1250.53 374.3,1251.9 C376.58,1253.27 378.3,1254.98 379.1,1255.6 Z" fill="#4f7dcc"/>
<path d="M379.1,1094.9 C379.25,1097.38 379.43,1104.82 380,1109.8 C380.57,1114.78 381.65,1119.82 382.5,1124.8 C383.35,1129.78 384.47,1134.72 385.1,1139.7 C385.73,1144.68 386.23,1149.72 386.3,1154.7 C386.37,1159.68 386,1164.62 385.5,1169.6 C385,1174.58 384.03,1179.62 383.3,1184.6 C382.57,1189.58 381.8,1195.52 381.1,1199.5 C380.4,1203.48 379.43,1207 379.1,1208.5 Z" fill="#e28a5a"/>
<line x1="379.1" y1="1143" x2="385.36" y2="1143" stroke-dasharray="3.6 3.6" stroke-width="1.3"/>
<line x1="379.1" y1="1159.5" x2="386.04" y2="1159.5" stroke-dasharray="6.5 6" stroke-width="1.3"/>
<line x1="379.1" y1="1174.9" x2="384.72" y2="1174.9" stroke-dasharray="3.6 3.6" stroke-width="1.3"/>
<path d="M412.4,1190 C412.1,1191.58 411.13,1196.42 410.6,1199.5 C410.07,1202.58 410.05,1205.92 409.2,1208.5 C408.35,1211.08 407.12,1212.75 405.5,1215 C403.88,1217.25 401.33,1219.5 399.5,1222 C397.67,1224.5 395.65,1227.5 394.5,1230 C393.35,1232.5 392.6,1234.75 392.6,1237 C392.6,1239.25 392.93,1241.55 394.5,1243.5 C396.07,1245.45 399.58,1247.03 402,1248.7 C404.42,1250.37 407.27,1251.98 409,1253.5 C410.73,1255.02 411.83,1257.08 412.4,1257.8 Z" fill="#4f7dcc"/>
<path d="M412.4,1091.9 C413.03,1092.9 414.7,1095.65 416.2,1097.9 C417.7,1100.15 419.98,1102.92 421.4,1105.4 C422.82,1107.88 423.95,1110.07 424.7,1112.8 C425.45,1115.53 425.95,1118.8 425.9,1121.8 C425.85,1124.8 425.15,1127.82 424.4,1130.8 C423.65,1133.78 422.4,1136.72 421.4,1139.7 C420.4,1142.68 419.2,1145.7 418.4,1148.7 C417.6,1151.7 417.1,1154.22 416.6,1157.7 C416.1,1161.18 415.8,1165.12 415.4,1169.6 C415,1174.08 414.57,1179.62 414.2,1184.6 C413.83,1189.58 413.5,1195.52 413.2,1199.5 C412.9,1203.48 412.53,1207 412.4,1208.5 Z" fill="#e28a5a"/>
<line x1="412.4" y1="1120.3" x2="425.7" y2="1120.3" stroke-dasharray="3.6 3.6" stroke-width="1.3"/>
<line x1="412.4" y1="1128.5" x2="424.78" y2="1128.5" stroke-dasharray="6.5 6" stroke-width="1.3"/>
<line x1="412.4" y1="1159.5" x2="416.42" y2="1159.5" stroke-dasharray="3.6 3.6" stroke-width="1.3"/>
<line x1="412.4" y1="1236.9" x2="392.63" y2="1236.9" stroke-dasharray="3.6 3.6" stroke-width="1.3"/>
<path d="M445.3,1199.5 L444.5,1205 L445,1208 L441,1213.3 L444.8,1216.5 L436.7,1222 L444.5,1225.5 L430.2,1229 L444.5,1232.8 L425.8,1236.8 L444.5,1240.8 L428,1244.8 L444,1247 L445.3,1248.5 Z" fill="#4f7dcc"/>
<path d="M445.3,1094.1 C445.43,1096.23 445.73,1102.28 446.1,1106.9 C446.47,1111.52 447.08,1116.83 447.5,1121.8 C447.92,1126.77 448.35,1131.22 448.6,1136.7 C448.85,1142.18 449.1,1149.22 449,1154.7 C448.9,1160.18 448.37,1164.62 448,1169.6 C447.63,1174.58 447.2,1179.62 446.8,1184.6 C446.4,1189.58 445.85,1195.77 445.6,1199.5 C445.35,1203.23 445.35,1205.75 445.3,1207 Z" fill="#e28a5a"/>
<path d="M478.2,1208.5 L476.4,1213 L477.9,1214.5 L475.2,1220.5 L477.6,1223.4 L467.7,1229.4 L476.9,1231.7 L458,1237.6 L476.2,1239.9 L461.7,1245.1 L476.2,1246.6 L478.2,1248.1 Z" fill="#4f7dcc"/>
<path d="M478.2,1074.7 C478.4,1080.55 479.1,1100.2 479.4,1109.8 C479.7,1119.4 479.95,1124.82 480,1132.3 C480.05,1139.78 479.87,1145.92 479.7,1154.7 C479.53,1163.48 479.25,1176.03 479,1185 C478.75,1193.97 478.33,1204.58 478.2,1208.5 Z" fill="#e28a5a"/>
<path d="M511.3,1212 C511.18,1212.83 511.23,1215.33 510.6,1217 C509.97,1218.67 507.77,1220.5 507.5,1222 C507.23,1223.5 509.58,1224.25 509,1226 C508.42,1227.75 504.5,1230.83 504,1232.5 C503.5,1234.17 506.57,1234.67 506,1236 C505.43,1237.33 502.95,1239.03 500.6,1240.5 C498.25,1241.97 492,1243.55 491.9,1244.8 C491.8,1246.05 497.48,1247.17 500,1248 C502.52,1248.83 505.12,1249.4 507,1249.8 C508.88,1250.2 510.58,1250.3 511.3,1250.4 Z" fill="#4f7dcc"/>
<path d="M511.3,1087.4 C511.43,1091.13 511.72,1103.07 512.1,1109.8 C512.48,1116.53 513.1,1122.07 513.6,1127.8 C514.1,1133.53 514.98,1138.47 515.1,1144.2 C515.22,1149.93 514.68,1155.97 514.3,1162.2 C513.92,1168.43 513.22,1175.38 512.8,1181.6 C512.38,1187.82 512.05,1194.02 511.8,1199.5 C511.55,1204.98 511.38,1212 511.3,1214.5 Z" fill="#e28a5a"/>
<path d="M544.2,1120.3 C543.95,1122.3 543.2,1127.82 542.7,1132.3 C542.2,1136.78 541.57,1142.22 541.2,1147.2 C540.83,1152.18 540.5,1157.22 540.5,1162.2 C540.5,1167.18 540.95,1172.12 541.2,1177.1 C541.45,1182.08 542.25,1187.12 542,1192.1 C541.75,1197.08 541.08,1202.52 539.7,1207 C538.32,1211.48 535.68,1215.52 533.7,1219 C531.72,1222.48 529.28,1224.92 527.8,1227.9 C526.32,1230.88 524.8,1234.4 524.8,1236.9 C524.8,1239.4 525.82,1240.9 527.8,1242.9 C529.78,1244.9 533.97,1247.03 536.7,1248.9 C539.43,1250.77 542.95,1253.23 544.2,1254.1 Z" fill="#4f7dcc"/>
<path d="M544.2,1103.1 C544.45,1105.97 544.7,1115.43 545.7,1120.3 C546.7,1125.17 548.7,1128.32 550.2,1132.3 C551.7,1136.28 553.65,1140.47 554.7,1144.2 C555.75,1147.93 556.38,1150.97 556.5,1154.7 C556.62,1158.43 556.08,1162.62 555.4,1166.6 C554.72,1170.58 553.27,1174.35 552.4,1178.6 C551.53,1182.85 550.93,1187.37 550.2,1192.1 C549.47,1196.83 548.7,1202.02 548,1207 C547.3,1211.98 546.5,1217.02 546,1222 C545.5,1226.98 545.3,1233.17 545,1236.9 C544.7,1240.63 544.33,1243.15 544.2,1244.4 Z" fill="#e28a5a"/>
<line x1="544.2" y1="1151.4" x2="555.93" y2="1151.4" stroke-dasharray="3.6 3.6" stroke-width="1.3"/>
<line x1="544.2" y1="1167.4" x2="555.2" y2="1167.4" stroke-dasharray="6.5 6" stroke-width="1.3"/>
<line x1="544.2" y1="1183.1" x2="551.67" y2="1183.1" stroke-dasharray="3.6 3.6" stroke-width="1.3"/>
<line x1="544.2" y1="1228.7" x2="527.53" y2="1228.7" stroke-dasharray="3.6 3.6" stroke-width="1.3"/>
<line x1="544.2" y1="1236.9" x2="524.8" y2="1236.9" stroke-dasharray="6.5 6" stroke-width="1.3"/>
</g>
<g stroke="#c8c8c8" stroke-width="1.1" stroke-opacity="0.5">
<line x1="64.9" y1="1069.35" x2="560.8" y2="1069.35"/>
<line x1="64.9" y1="1104.5" x2="560.8" y2="1104.5"/>
<line x1="64.9" y1="1139.65" x2="560.8" y2="1139.65"/>
<line x1="64.9" y1="1174.8" x2="560.8" y2="1174.8"/>
<line x1="64.9" y1="1209.95" x2="560.8" y2="1209.95"/>
<line x1="64.9" y1="1245.1" x2="560.8" y2="1245.1"/>
</g>
<rect x="64.9" y="1064.7" width="495.9" height="214" fill="none" stroke="#5a5a5a" stroke-width="1.3"/>
<g stroke="#5a5a5a" stroke-width="1.2">
<line x1="61.4" y1="1069.35" x2="64.9" y2="1069.35"/>
<line x1="61.4" y1="1104.5" x2="64.9" y2="1104.5"/>
<line x1="61.4" y1="1139.65" x2="64.9" y2="1139.65"/>
<line x1="61.4" y1="1174.8" x2="64.9" y2="1174.8"/>
<line x1="61.4" y1="1209.95" x2="64.9" y2="1209.95"/>
<line x1="61.4" y1="1245.1" x2="64.9" y2="1245.1"/>
<line x1="81.43" y1="1278.7" x2="81.43" y2="1282.2"/>
<line x1="114.49" y1="1278.7" x2="114.49" y2="1282.2"/>
<line x1="147.55" y1="1278.7" x2="147.55" y2="1282.2"/>
<line x1="180.61" y1="1278.7" x2="180.61" y2="1282.2"/>
<line x1="213.67" y1="1278.7" x2="213.67" y2="1282.2"/>
<line x1="246.73" y1="1278.7" x2="246.73" y2="1282.2"/>
<line x1="279.79" y1="1278.7" x2="279.79" y2="1282.2"/>
<line x1="312.85" y1="1278.7" x2="312.85" y2="1282.2"/>
<line x1="345.91" y1="1278.7" x2="345.91" y2="1282.2"/>
<line x1="378.97" y1="1278.7" x2="378.97" y2="1282.2"/>
<line x1="412.03" y1="1278.7" x2="412.03" y2="1282.2"/>
<line x1="445.09" y1="1278.7" x2="445.09" y2="1282.2"/>
<line x1="478.15" y1="1278.7" x2="478.15" y2="1282.2"/>
<line x1="511.21" y1="1278.7" x2="511.21" y2="1282.2"/>
<line x1="544.27" y1="1278.7" x2="544.27" y2="1282.2"/>
</g>
<text x="56.9" y="1073.95" font-size="13.6" text-anchor="end" textLength="28.5" lengthAdjust="spacingAndGlyphs">1.25</text>
<text x="56.9" y="1109.1" font-size="13.6" text-anchor="end" textLength="28.5" lengthAdjust="spacingAndGlyphs">1.00</text>
<text x="56.9" y="1144.25" font-size="13.6" text-anchor="end" textLength="28.5" lengthAdjust="spacingAndGlyphs">0.75</text>
<text x="56.9" y="1179.4" font-size="13.6" text-anchor="end" textLength="28.5" lengthAdjust="spacingAndGlyphs">0.50</text>
<text x="56.9" y="1214.55" font-size="13.6" text-anchor="end" textLength="28.5" lengthAdjust="spacingAndGlyphs">0.25</text>
<text x="56.9" y="1249.7" font-size="13.6" text-anchor="end" textLength="28.5" lengthAdjust="spacingAndGlyphs">0.00</text>
<text x="0" y="0" font-size="14.2" text-anchor="end" textLength="98.27" lengthAdjust="spacingAndGlyphs" transform="translate(77.83,1296.4) rotate(-45)">Alveolar Type1</text>
<text x="0" y="0" font-size="14.2" text-anchor="end" textLength="98.27" lengthAdjust="spacingAndGlyphs" transform="translate(110.89,1296.4) rotate(-45)">Alveolar Type2</text>
<text x="0" y="0" font-size="14.2" text-anchor="end" textLength="36.51" lengthAdjust="spacingAndGlyphs" transform="translate(143.95,1296.4) rotate(-45)">B cell</text>
<text x="0" y="0" font-size="14.2" text-anchor="end" textLength="63.64" lengthAdjust="spacingAndGlyphs" transform="translate(177.01,1296.4) rotate(-45)">Basal cell</text>
<text x="0" y="0" font-size="14.2" text-anchor="end" textLength="78.06" lengthAdjust="spacingAndGlyphs" transform="translate(210.07,1296.4) rotate(-45)">Ciliated cell</text>
<text x="0" y="0" font-size="14.2" text-anchor="end" textLength="88.45" lengthAdjust="spacingAndGlyphs" transform="translate(243.13,1296.4) rotate(-45)">Dendritic cell</text>
<text x="0" y="0" font-size="14.2" text-anchor="end" textLength="65.05" lengthAdjust="spacingAndGlyphs" transform="translate(276.19,1296.4) rotate(-45)">Fibroblast</text>
<text x="0" y="0" font-size="14.2" text-anchor="end" textLength="82.51" lengthAdjust="spacingAndGlyphs" transform="translate(309.25,1296.4) rotate(-45)">Macrophage</text>
<text x="0" y="0" font-size="14.2" text-anchor="end" textLength="59.33" lengthAdjust="spacingAndGlyphs" transform="translate(342.31,1296.4) rotate(-45)">Mast cell</text>
<text x="0" y="0" font-size="14.2" text-anchor="end" textLength="65.25" lengthAdjust="spacingAndGlyphs" transform="translate(375.37,1296.4) rotate(-45)">Monocyte</text>
<text x="0" y="0" font-size="14.2" text-anchor="end" textLength="46.13" lengthAdjust="spacingAndGlyphs" transform="translate(408.43,1296.4) rotate(-45)">NK cell</text>
<text x="0" y="0" font-size="14.2" text-anchor="end" textLength="75.58" lengthAdjust="spacingAndGlyphs" transform="translate(441.49,1296.4) rotate(-45)">Plasma cell</text>
<text x="0" y="0" font-size="14.2" text-anchor="end" textLength="180.14" lengthAdjust="spacingAndGlyphs" transform="translate(474.55,1296.4) rotate(-45)">Plasmacytoid dendritic cell</text>
<text x="0" y="0" font-size="14.2" text-anchor="end" textLength="129.65" lengthAdjust="spacingAndGlyphs" transform="translate(507.61,1296.4) rotate(-45)">Smooth Muscle cell</text>
<text x="0" y="0" font-size="14.2" text-anchor="end" textLength="35.5" lengthAdjust="spacingAndGlyphs" transform="translate(540.67,1296.4) rotate(-45)">T cell</text>
<text x="97.9" y="1059.2" font-size="14.6" text-anchor="start" textLength="430" lengthAdjust="spacingAndGlyphs">(d) Lung_29K with Lung_39K used as reference to find markers</text>
<rect x="573.5" y="1151.6" width="90.1" height="40.1" rx="2.5" fill="#fff" fill-opacity="0.8" stroke="#dcdcdc" stroke-width="1"/>
<rect x="578.5" y="1157.21" width="6.5" height="9.4" fill="#4f7dcc" stroke="#4a4a4a" stroke-width="0.6"/>
<rect x="578.5" y="1175.26" width="6.5" height="9.4" fill="#e28a5a" stroke="#4a4a4a" stroke-width="0.6"/>
<text x="590.5" y="1166.21" font-size="14.2" text-anchor="start" textLength="67" lengthAdjust="spacingAndGlyphs">Non-target</text>
<text x="590.5" y="1184.26" font-size="14.2" text-anchor="start" textLength="38.36" lengthAdjust="spacingAndGlyphs">Target</text>
<text x="312.85" y="1440.2" font-size="14.6" text-anchor="middle" textLength="102.4" lengthAdjust="spacingAndGlyphs">Target cell type</text>
<text x="0" y="0" font-size="14.6" text-anchor="middle" textLength="172.6" lengthAdjust="spacingAndGlyphs" transform="translate(20.5,1171.7) rotate(-90)">Normalized marker count</text>
</g>
</g></g></svg></body></html>
